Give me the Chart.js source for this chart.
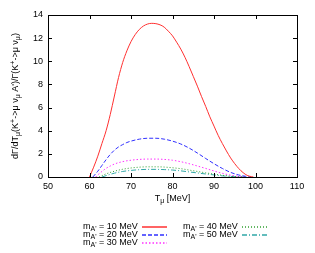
<!DOCTYPE html>
<html><head><meta charset="utf-8">
<script src="https://cdn.jsdelivr.net/npm/chart.js@4"></script>
<style>html,body{margin:0;padding:0;background:#fff}#wrap{width:315px;height:253px;position:relative}</style>
</head><body><div id="wrap"><canvas id="c" width="315" height="253"></canvas></div>
<script>
// ---- data ----
const xTicks = [50, 60, 70, 80, 90, 100, 110];
const yTicks = [0, 2, 4, 6, 8, 10, 12, 14];
const seriesLabels = ["10 MeV", "20 MeV", "30 MeV", "40 MeV", "50 MeV"];

const t10 = [60, 61, 62, 63, 64, 65, 66, 67, 68, 69, 70, 71, 72, 73, 74, 75, 76, 77, 78, 79, 80, 81, 82, 83, 84, 85, 86, 87, 88, 89, 90, 91, 92, 93, 94, 95, 96, 97, 98, 99, 99.5];
const v10 = [0, 0.85, 1.8, 2.9, 4.0, 5.4, 7.0, 8.6, 9.9, 10.9, 11.7, 12.3, 12.75, 13.05, 13.22, 13.28, 13.25, 13.15, 12.95, 12.6, 12.2, 11.65, 11.05, 10.35, 9.55, 8.7, 7.85, 6.95, 6.1, 5.2, 4.4, 3.6, 2.9, 2.25, 1.65, 1.15, 0.72, 0.38, 0.14, 0.03, 0];

const t20 = [60.8, 62, 63, 64, 65, 66, 67, 68, 69, 70, 72, 74, 76, 78, 80, 82, 84, 86, 88, 90, 92, 94, 96, 98, 99];
const v20 = [0, 0.5, 1.0, 1.5, 1.95, 2.32, 2.6, 2.8, 2.98, 3.1, 3.27, 3.35, 3.35, 3.27, 3.1, 2.85, 2.5, 2.07, 1.6, 1.15, 0.74, 0.4, 0.17, 0.04, 0];

const t30 = [61.5, 62, 63, 64, 65, 66, 68, 70, 72, 74, 76, 78, 80, 82, 84, 86, 88, 90, 92, 94, 96, 97.5];
const v30 = [0, 0.18, 0.48, 0.75, 0.95, 1.12, 1.33, 1.45, 1.52, 1.55, 1.55, 1.52, 1.45, 1.32, 1.15, 0.95, 0.74, 0.52, 0.32, 0.16, 0.05, 0];

const t40 = [62.3, 64, 66, 68, 70, 72, 74, 76, 78, 80, 82, 84, 86, 88, 90, 92, 94, 96, 97.5];
const v40 = [0, 0.27, 0.5, 0.67, 0.78, 0.85, 0.88, 0.88, 0.86, 0.8, 0.72, 0.6, 0.48, 0.36, 0.25, 0.15, 0.07, 0.02, 0];

const t50 = [63, 64, 66, 68, 70, 72, 74, 76, 78, 80, 82, 84, 86, 88, 90, 92, 94, 96, 97.5];
const v50 = [0, 0.12, 0.33, 0.48, 0.57, 0.63, 0.66, 0.66, 0.64, 0.6, 0.53, 0.44, 0.35, 0.26, 0.18, 0.1, 0.05, 0.01, 0];

const FONT = '"Liberation Sans", Arial, Helvetica, sans-serif';
const colors = ['#ff3030', '#3030ff', '#ff30ff', '#30a030', '#30a8a8'];
const dashes = [[], [4, 2], [1.5, 2], [1, 2], [5, 2, 1, 2]];
const ts = [t10, t20, t30, t40, t50];
const vs = [v10, v20, v30, v40, v50];

const datasets = ts.map((t, i) => ({
  label: seriesLabels[i],
  data: t.map((x, j) => ({x: x, y: vs[i][j]})),
  borderColor: colors[i],
  borderDash: dashes[i],
  borderWidth: 1,
  pointRadius: 0,
  fill: false,
  cubicInterpolationMode: 'monotone'
}));

function drawSub(ctx, x, y, parts) {
  for (const p of parts) {
    if (p.sub) {
      ctx.font = '7px ' + FONT;
      ctx.fillText(p.text, x, y + 2.5);
    } else if (p.sup) {
      ctx.font = '7px ' + FONT;
      ctx.fillText(p.text, x, y - 3);
    } else {
      ctx.font = '9px ' + FONT;
      ctx.fillText(p.text, x, y);
    }
    x += ctx.measureText(p.text).width;
  }
  return x;
}
function measureParts(ctx, parts) {
  let w = 0;
  for (const p of parts) {
    ctx.font = ((p.sub || p.sup) ? '7px ' : '9px ') + FONT;
    w += ctx.measureText(p.text).width;
  }
  return w;
}

const decor = {
  id: 'decor',
  afterDraw(chart) {
    const ctx = chart.ctx;
    const a = chart.chartArea;
    const xs = chart.scales.x, ys = chart.scales.y;
    ctx.save();
    ctx.strokeStyle = '#000';
    ctx.lineWidth = 1;
    ctx.setLineDash([]);
    ctx.strokeRect(Math.round(a.left) + 0.5, Math.round(a.top) + 0.5, Math.round(a.right - a.left), Math.round(a.bottom - a.top));
    ctx.beginPath();
    for (const v of xTicks) {
      const px = Math.round(xs.getPixelForValue(v)) + 0.5;
      ctx.moveTo(px, a.bottom); ctx.lineTo(px, a.bottom - 4);
      ctx.moveTo(px, a.top); ctx.lineTo(px, a.top + 4);
    }
    for (const v of yTicks) {
      const py = Math.round(ys.getPixelForValue(v)) + 0.5;
      ctx.moveTo(a.left, py); ctx.lineTo(a.left + 4, py);
      ctx.moveTo(a.right, py); ctx.lineTo(a.right - 4, py);
    }
    ctx.stroke();

    ctx.fillStyle = '#000';
    ctx.textBaseline = 'middle';
    ctx.textAlign = 'left';
    const xt = [{text: 'T'}, {text: 'μ', sub: true}, {text: ' [MeV]'}];
    const xw = measureParts(ctx, xt);
    drawSub(ctx, (a.left + a.right) / 2 - xw / 2, 199, xt);
    const yt = [{text: 'dΓ/dT'}, {text: 'μ', sub: true}, {text: '(K'}, {text: '+', sup: true}, {text: '->μ ν'}, {text: 'μ', sub: true},
      {text: ' A\')/Γ(K'}, {text: '+', sup: true}, {text: '->μ ν'}, {text: 'μ', sub: true}, {text: ')'}];
    const yw = measureParts(ctx, yt);
    ctx.save();
    ctx.translate(16, (a.top + a.bottom) / 2);
    ctx.rotate(-Math.PI / 2);
    drawSub(ctx, -yw / 2, 0, yt);
    ctx.restore();

    // legend
    const cols = [{tx: 83, lx: 142}, {tx: 183, lx: 242}];
    const rows = [227, 235, 243];
    const order = [[0, 0], [0, 1], [0, 2], [1, 0], [1, 1]];
    for (let i = 0; i < order.length; i++) {
      const c = cols[order[i][0]], y = rows[order[i][1]];
      ctx.fillStyle = '#000';
      drawSub(ctx, c.tx, y, [{text: 'm'}, {text: 'A\'', sub: true}, {text: ' = ' + seriesLabels[i]}]);
    }
    for (let i = 0; i < order.length; i++) {
      const c = cols[order[i][0]], y = rows[order[i][1]];
      ctx.beginPath();
      ctx.lineWidth = 1.5;
      ctx.strokeStyle = colors[i];
      ctx.setLineDash(dashes[i]);
      ctx.moveTo(c.lx, y);
      ctx.lineTo(c.lx + 25, y);
      ctx.stroke();
    }
    ctx.restore();
  }
};

new Chart(document.getElementById('c'), {
  type: 'line',
  data: {datasets: datasets},
  options: {
    responsive: false,
    animation: false,
    devicePixelRatio: 1,
    layout: {padding: {top: 15, right: 18, left: 0, bottom: 0}},
    plugins: {legend: {display: false}, tooltip: {enabled: false}, title: {display: false}},
    scales: {
      x: {
        type: 'linear', min: 50, max: 110,
        afterBuildTicks(s) { s.ticks = xTicks.map(v => ({value: v})); },
        afterFit(s) { s.height = 76; },
        ticks: {font: {family: FONT, size: 9}, color: '#000', padding: 4, maxRotation: 0},
        grid: {display: true, drawOnChartArea: false, drawTicks: false},
        border: {display: true, color: '#000'}
      },
      y: {
        type: 'linear', min: 0, max: 14,
        afterBuildTicks(s) { s.ticks = yTicks.map(v => ({value: v})); },
        afterFit(s) { s.width = 48; },
        ticks: {font: {family: FONT, size: 9}, color: '#000', padding: 5},
        grid: {display: true, drawOnChartArea: false, drawTicks: false},
        border: {display: true, color: '#000'}
      }
    }
  },
  plugins: [decor]
});
</script>
</body></html>
